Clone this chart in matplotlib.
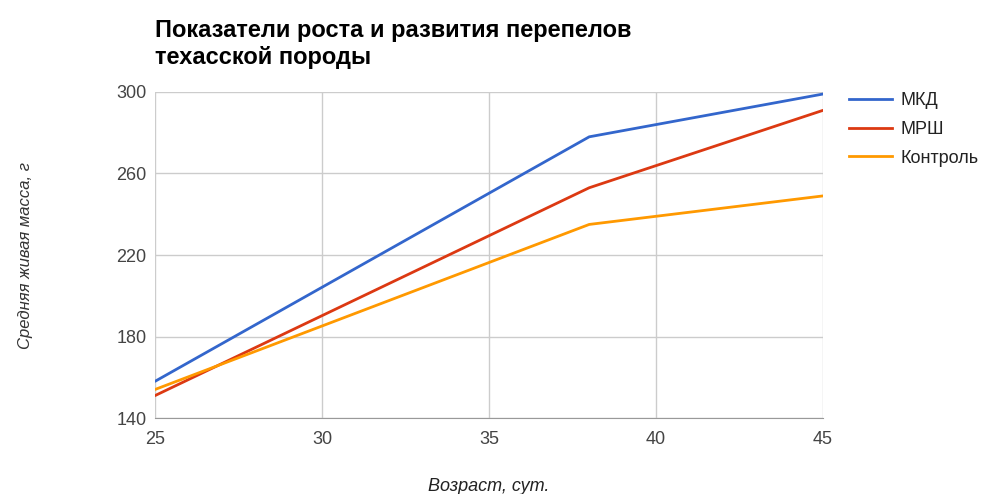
import matplotlib.pyplot as plt
from matplotlib.lines import Line2D

plt.rcParams['font.family'] = ['Liberation Sans', 'DejaVu Sans']

# возраст, сут.
age = [25, 38, 45]

# средняя живая масса, г
mkd = [158, 278, 299]
mrsh = [151, 253, 291]
control = [154, 235, 249]

names = ['МКД', 'МРШ', 'Контроль']
colors = ['#3366cc', '#dc3912', '#ff9900']

x_ticks = [25, 30, 35, 40, 45]
y_ticks = [140, 180, 220, 260, 300]

fig = plt.figure(figsize=(9.98, 4.94), dpi=100)
ax = fig.add_axes([0.1553, 0.1538, 0.6694, 0.66])

for series, name, c in zip([mkd, mrsh, control], names, colors):
    ax.plot(age, series, color=c, linewidth=2, label=name, solid_capstyle='round')

ax.set_xlim(25, 45)
ax.set_ylim(140, 300)
ax.set_xticks(x_ticks)
ax.set_yticks(y_ticks)
ax.grid(True, color='#cccccc', linewidth=1)
ax.set_axisbelow(True)

for side in ['top', 'right', 'left']:
    ax.spines[side].set_visible(False)
ax.spines['bottom'].set_color('#999999')
ax.tick_params(axis='both', length=0, colors='#444444', labelsize=13)
ax.tick_params(axis='y', pad=6)
ax.tick_params(axis='x', pad=9)

ax.set_xlabel('Возраст, сут.', style='italic', color='#222222', fontsize=13, labelpad=22)
ax.set_ylabel('Средняя живая масса, г', style='italic', color='#333333', fontsize=12, labelpad=60)

fig.text(0.1553, 0.86, 'Показатели роста и развития перепелов\nтехасской породы',
         fontsize=17, fontweight='bold', color='#000000', ha='left', va='bottom',
         linespacing=1.25)

handles = [Line2D([], [], color=c, linewidth=2) for c in colors]
leg = fig.legend(handles, names, loc='upper left', bbox_to_anchor=(0.834, 0.846),
                 frameon=False, fontsize=13, handlelength=2.4, labelspacing=0.65,
                 handletextpad=0.45)
for t in leg.get_texts():
    t.set_color('#222222')

fig.savefig('out.png', dpi=100)
